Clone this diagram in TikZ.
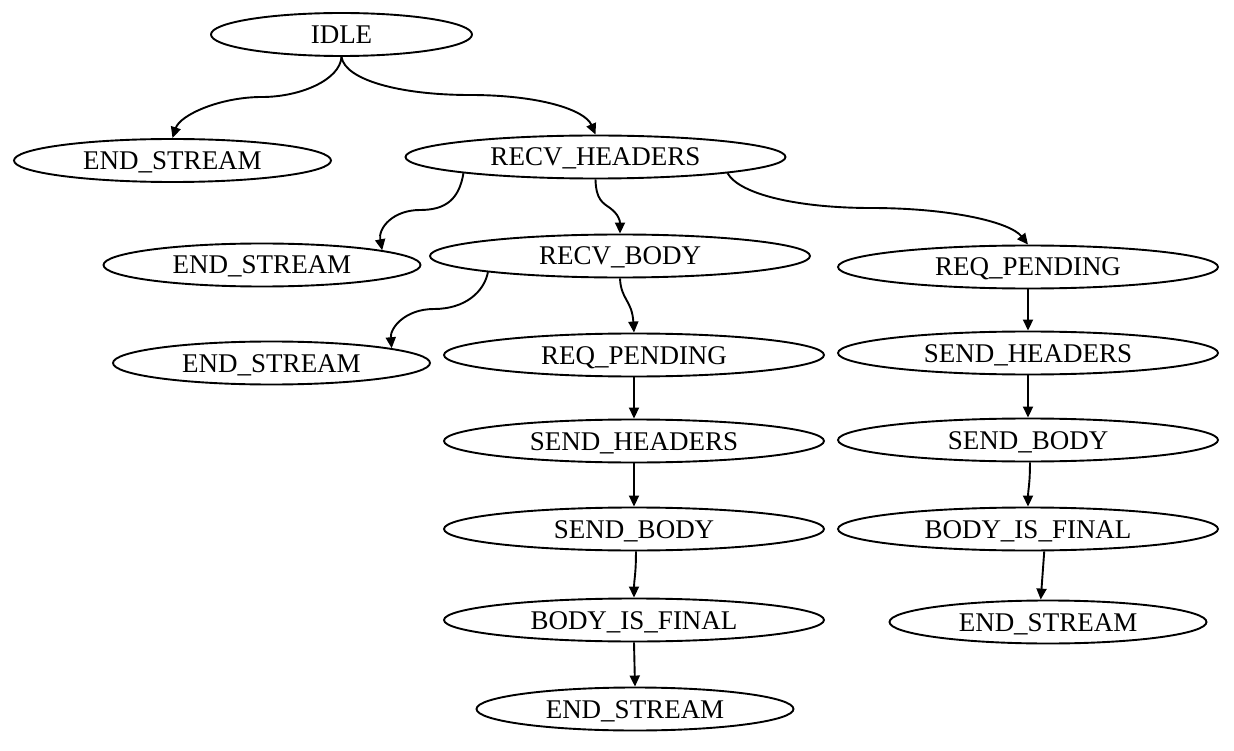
\documentclass[tikz,border=0pt]{standalone}
\usepackage{fontspec}
\setmainfont{Liberation Serif}
\usetikzlibrary{shapes.geometric,arrows.meta}
\begin{document}
\begin{tikzpicture}[x=1pt,y=-1pt,
  stnode/.style={ellipse,draw,line width=1.9pt,inner sep=0pt,text height=18pt,text depth=0pt,
    minimum height=43pt,minimum width=#1,font=\fontsize{27}{32}\selectfont},
  conn/.style={line width=1.9pt,-{Triangle[length=11pt,width=10pt]}}]
\useasboundingbox (0,0) rectangle (1234,751);
% nodes
\node[stnode=261pt] (idle) at (341.5,34.5) {IDLE};
\node[stnode=317pt] (es1) at (172.5,160.5) {END\_STREAM};
\node[stnode=380pt] (rh) at (595.5,157) {RECV\_HEADERS};
\node[stnode=317pt] (es2) at (262,265) {END\_STREAM};
\node[stnode=380pt] (rb) at (620,256) {RECV\_BODY};
\node[stnode=380pt] (rpr) at (1028,267) {REQ\_PENDING};
\node[stnode=317pt] (es3) at (271.5,363) {END\_STREAM};
\node[stnode=380pt] (rpm) at (634,355) {REQ\_PENDING};
\node[stnode=380pt] (shm) at (634,441) {SEND\_HEADERS};
\node[stnode=380pt] (sbm) at (634,529) {SEND\_BODY};
\node[stnode=380pt] (bfm) at (634,620) {BODY\_IS\_FINAL};
\node[stnode=317pt] (esb) at (635,709) {END\_STREAM};
\node[stnode=380pt] (shr) at (1028,353) {SEND\_HEADERS};
\node[stnode=380pt] (sbr) at (1028,440) {SEND\_BODY};
\node[stnode=380pt] (bfr) at (1028,529) {BODY\_IS\_FINAL};
\node[stnode=317pt] (esr) at (1048,622) {END\_STREAM};
% connectors
\draw[conn] (idle.south) .. controls (340,80) and (300,97) .. (262,97)
  .. controls (220,97) and (180,115) .. (es1.north);
\draw[conn] (idle.south) .. controls (345,80) and (400,95) .. (470,95)
  .. controls (540,95) and (585,110) .. (rh.north);
\draw[conn] (rh.187) .. controls (459,200) and (445,210) .. (420,210)
  .. controls (393,210) and (378,228) .. (es2.7);
\draw[conn] (rh.south) .. controls (596,200) and (603,203) .. (610,208)
  .. controls (618,214) and (620,220) .. (rb.north);
\draw[conn] (rh.-7) .. controls (740,195) and (800,208) .. (871,208)
  .. controls (950,208) and (1010,222) .. (rpr.north);
\draw[conn] (rb.187) .. controls (484,292) and (465,309) .. (434,309)
  .. controls (405,309) and (390,328) .. (es3.7);
\draw[conn] (rb.south) .. controls (621,300) and (632,300) .. (rpm.north);
\draw[conn] (rpm) -- (shm);
\draw[conn] (shm) -- (sbm);
\draw[conn] (sbm.-85) .. controls (636,575) and (634,580) .. (bfm.north);
\draw[conn] (bfm.south) -- (esb.north);
\draw[conn] (rpr) -- (shr);
\draw[conn] (shr) -- (sbr);
\draw[conn] (sbr.-85) .. controls (1030,485) and (1028,490) .. (bfr.north);
\draw[conn] (bfr.-54) -- (esr.108);
\end{tikzpicture}
\end{document}
